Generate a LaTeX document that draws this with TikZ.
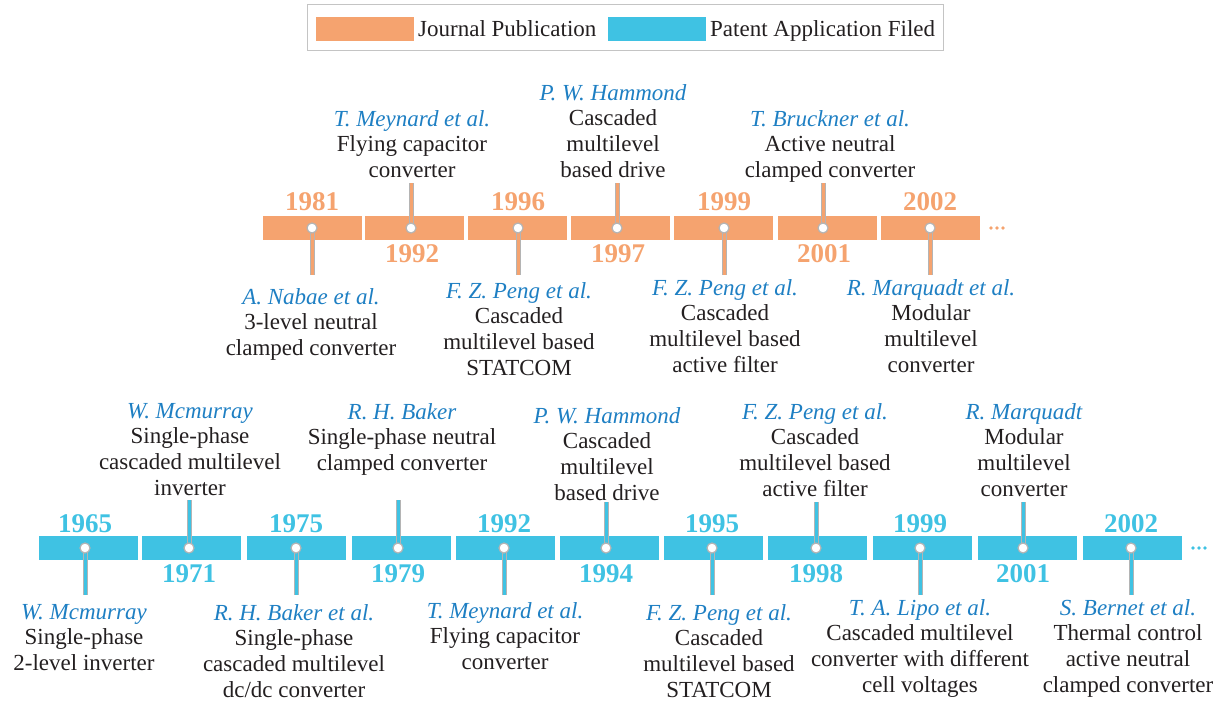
\documentclass[tikz,border=0pt]{standalone}
\usepackage{fontspec}
\setmainfont{Liberation Serif}
\definecolor{jorange}{HTML}{F5A36F}
\definecolor{pcyan}{HTML}{3FC2E3}
\definecolor{nameblue}{HTML}{1E7FC3}
\definecolor{stemgray}{HTML}{B4B4B4}
\definecolor{txt}{HTML}{231F20}
\definecolor{legendgray}{HTML}{C4C4C4}
\newcommand{\who}[1]{{\color{nameblue}\itshape #1}}
\begin{document}
\begin{tikzpicture}[x=1pt,y=-1pt,
  barbox/.style={fill=#1, draw=none, minimum width=99pt, minimum height=24pt, inner sep=0pt, anchor=west},
  evt/.style={align=center, anchor=north, inner sep=0pt, font=\fontsize{23}{25.7}\selectfont, text=txt},
  yr/.style={font=\fontsize{27}{27}\selectfont\bfseries, text=#1, anchor=base, inner sep=0pt},
  stem/.style={draw=stemgray, double=#1, double distance=3pt, line width=1pt},
  pin/.style={circle, fill=white, draw=stemgray, line width=1.2pt, minimum size=10pt, inner sep=0pt},
  swatch/.style={fill=#1, draw=none, minimum width=98pt, minimum height=24pt, inner sep=0pt, anchor=north west},
  legtext/.style={font=\fontsize{23}{25}\selectfont, text=txt, anchor=base west, inner sep=0pt},
]
\useasboundingbox (0,0) rectangle (1225,701);

% ---------- legend ----------
\node[draw=legendgray, line width=1.2pt, minimum width=636pt, minimum height=46pt, anchor=north west, inner sep=0pt] (legend) at (307,4) {};
\node[swatch=jorange] (swJ) at (316,17) {};
\node[legtext] (tJ) at (418,37) {Journal Publication};
\node[swatch=pcyan] (swP) at (608,17) {};
\node[legtext] (tP) at (710,37) {Patent Application Filed};

% ---------- top row (journal) ----------
\foreach \nm/\lx in {1981/263,1992/365,1996/468,1997/571,1999/674,2001/778,2002/881}{
  \node[barbox=jorange] (bt\nm) at (\lx,228) {};
}
\foreach \nm/\px/\ey in {1981/312/275,1992/411/183,1996/518/275,1997/617/183,1999/724/275,2001/823/183,2002/930/275}{
  \coordinate (pt\nm) at (\px,228);
  \coordinate (et\nm) at (\px,\ey);
  \draw[stem=jorange] (pt\nm) -- (et\nm);
  \node[pin] (dt\nm) at (pt\nm) {};
}
\node[yr=jorange] (yt1981) at (312,210) {1981};
\node[yr=jorange] (yt1992) at (412,262) {1992};
\node[yr=jorange] (yt1996) at (518,210) {1996};
\node[yr=jorange] (yt1997) at (618,262) {1997};
\node[yr=jorange] (yt1999) at (724,210) {1999};
\node[yr=jorange] (yt2001) at (824,262) {2001};
\node[yr=jorange] (yt2002) at (930,210) {2002};
\foreach \k/\xx in {1/991,2/997,3/1003}{
  \fill[jorange] (\xx,228) circle (1.9pt);
}
\node[evt] (nt1992) at (412,110) {\who{T. Meynard et al.}\\Flying capacitor\\converter};
\node[evt] (nt1997) at (613,84) {\who{P. W. Hammond}\\Cascaded\\multilevel\\based drive};
\node[evt] (nt2001) at (830,110) {\who{T. Bruckner et al.}\\Active neutral\\clamped converter};
\node[evt] (nt1981) at (311,288) {\who{A. Nabae et al.}\\3-level neutral\\clamped converter};
\node[evt] (nt1996) at (519,282) {\who{F. Z. Peng et al.}\\Cascaded\\multilevel based\\STATCOM};
\node[evt] (nt1999) at (725,279) {\who{F. Z. Peng et al.}\\Cascaded\\multilevel based\\active filter};
\node[evt] (nt2002) at (931,279) {\who{R. Marquadt et al.}\\Modular\\multilevel\\converter};

% ---------- bottom row (patent) ----------
\foreach \nm/\lx in {1965/39,1971/142,1975/247,1979/352,1992/456,1994/560,1995/664,1998/768,1999/873,2001/978,2002/1083}{
  \node[barbox=pcyan] (bb\nm) at (\lx,547.5) {};
}
\foreach \nm/\px/\ey in {1965/85/595,1971/189/500,1975/296/595,1979/398/500,1992/504/595,1994/606/502,1995/712/595,1998/816/502,1999/920/595,2001/1023/502,2002/1131/595}{
  \coordinate (pb\nm) at (\px,548);
  \coordinate (eb\nm) at (\px,\ey);
  \draw[stem=pcyan] (pb\nm) -- (eb\nm);
  \node[pin] (db\nm) at (pb\nm) {};
}
\node[yr=pcyan] (yb1965) at (85,532) {1965};
\node[yr=pcyan] (yb1971) at (189,582) {1971};
\node[yr=pcyan] (yb1975) at (296,532) {1975};
\node[yr=pcyan] (yb1979) at (398,582) {1979};
\node[yr=pcyan] (yb1992) at (504,532) {1992};
\node[yr=pcyan] (yb1994) at (606,582) {1994};
\node[yr=pcyan] (yb1995) at (712,532) {1995};
\node[yr=pcyan] (yb1998) at (816,582) {1998};
\node[yr=pcyan] (yb1999) at (920,532) {1999};
\node[yr=pcyan] (yb2001) at (1023,582) {2001};
\node[yr=pcyan] (yb2002) at (1131,532) {2002};
\foreach \k/\xx in {1/1193,2/1199,3/1205}{
  \fill[pcyan] (\xx,548) circle (1.9pt);
}
\node[evt] (nb1971) at (190,403) {\who{W. Mcmurray}\\Single-phase\\cascaded multilevel\\inverter};
\node[evt] (nb1979) at (402,403) {\who{R. H. Baker}\\Single-phase neutral\\clamped converter};
\node[evt] (nb1994) at (607,407) {\who{P. W. Hammond}\\Cascaded\\multilevel\\based drive};
\node[evt] (nb1998) at (815,403) {\who{F. Z. Peng et al.}\\Cascaded\\multilevel based\\active filter};
\node[evt] (nb2001) at (1024,403) {\who{R. Marquadt}\\Modular\\multilevel\\converter};
\node[evt] (nb1965) at (84,604) {\who{W. Mcmurray}\\Single-phase\\2-level inverter};
\node[evt] (nb1975) at (294,604) {\who{R. H. Baker et al.}\\Single-phase\\cascaded multilevel\\dc/dc converter};
\node[evt] (nb1992) at (505,602) {\who{T. Meynard et al.}\\Flying capacitor\\converter};
\node[evt] (nb1995) at (719,604) {\who{F. Z. Peng et al.}\\Cascaded\\multilevel based\\STATCOM};
\node[evt] (nb1999) at (920,599) {\who{T. A. Lipo et al.}\\Cascaded multilevel\\converter with different\\cell voltages};
\node[evt] (nb2002) at (1128,599) {\who{S. Bernet et al.}\\Thermal control\\active neutral\\clamped converter};
\end{tikzpicture}
\end{document}
